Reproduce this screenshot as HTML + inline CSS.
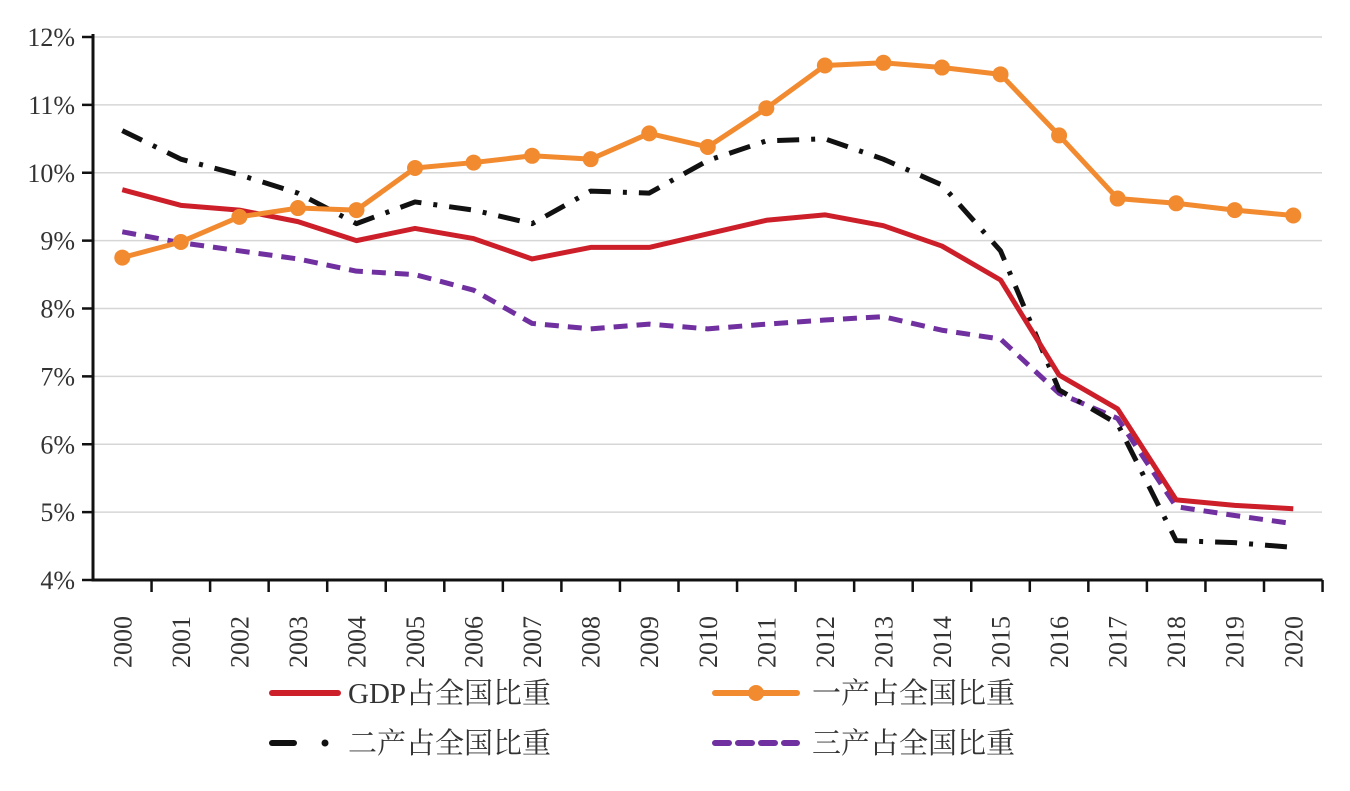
<!DOCTYPE html>
<html><head><meta charset="utf-8"><style>
body{margin:0;background:#fff;width:1350px;height:786px;overflow:hidden}
svg text{font-family:"Liberation Serif","Noto Serif CJK SC",serif;fill:#333}
</style></head><body>
<svg id="chart" width="1350" height="786"></svg>
<script>
const years=["2000","2001","2002","2003","2004","2005","2006","2007","2008","2009","2010","2011","2012","2013","2014","2015","2016","2017","2018","2019","2020"];
const gdpShare=[9.75,9.52,9.45,9.28,9.0,9.18,9.03,8.73,8.9,8.9,9.1,9.3,9.38,9.22,8.92,8.42,7.02,6.52,5.18,5.1,5.05];
const primaryShare=[8.75,8.98,9.35,9.48,9.45,10.07,10.15,10.25,10.2,10.58,10.38,10.95,11.58,11.62,11.55,11.45,10.55,9.62,9.55,9.45,9.37];
const secondaryShare=[10.62,10.2,9.97,9.7,9.25,9.57,9.45,9.25,9.73,9.7,10.18,10.47,10.5,10.2,9.82,8.85,6.8,6.3,4.58,4.55,4.48];
const tertiaryShare=[9.13,8.97,8.85,8.73,8.55,8.5,8.27,7.78,7.7,7.77,7.7,7.77,7.83,7.88,7.68,7.55,6.75,6.38,5.08,4.95,4.83];
const yTicks=[4,5,6,7,8,9,10,11,12];
const NS="http://www.w3.org/2000/svg",svg=document.getElementById('chart');
const x0=93,step=58.55,yTop=37,yBot=580;
const X=i=>x0+step*(i+0.5);
const Y=v=>yBot-(v-4)/8*(yBot-yTop);
function mk(t,a,p){const e=document.createElementNS(NS,t);for(const k in a)e.setAttribute(k,a[k]);(p||svg).appendChild(e);return e;}
yTicks.forEach(v=>{
 if(v>4){const g=mk('line',{x1:x0,x2:1322,y1:Y(v),y2:Y(v),stroke:'#d6d6d6','stroke-width':1.5});
 
 }
 const tk=mk('line',{x1:x0-11,x2:x0,y1:Y(v),y2:Y(v),stroke:'#111','stroke-width':2.5});
 
 
 const t=mk('text',{x:x0-18,y:Y(v)+9,'text-anchor':'end','font-size':26});
 t.textContent=v+'%';
 
 
});
const ax=mk('path',{d:`M${x0} ${yTop-3}V${yBot}H${x0+step*years.length}`,stroke:'#111','stroke-width':3,fill:'none'});


years.forEach((y,i)=>{
 const tk=mk('line',{x1:x0+step*(i+1),x2:x0+step*(i+1),y1:yBot,y2:yBot+12,stroke:'#111','stroke-width':2.5});
 
 
 const t=mk('text',{transform:`translate(${X(i)+9},${yBot+88}) rotate(-90)`,'font-size':26});
 t.textContent=y;
 
 
});
function series(data,color,dash,name,w){
 const p=mk('path',{d:data.map((v,i)=>(i?'L':'M')+X(i)+' '+Y(v)).join(''),stroke:color,'stroke-width':w,fill:'none','stroke-dasharray':dash||'','stroke-linejoin':'round'});
 
 
}
series(tertiaryShare,'#7030a0','14 9','tertiary-line',5);
series(secondaryShare,'#111','22 12 4 12','secondary-line',5);
series(gdpShare,'#cc1f2a','', 'gdp-line',5);
series(primaryShare,'#f28a30','', 'primary-line',5);
primaryShare.forEach((v,i)=>{
 const c=mk('circle',{cx:X(i),cy:Y(v),r:8,fill:'#f28a30'});
 
 
});
function legend(x,y,color,dash,label,name,marker,len,tx){
 const g=mk('g',{});
 
 
 mk('line',{x1:x,x2:x+len,y1:y,y2:y,stroke:color,'stroke-width':6,'stroke-dasharray':dash||'','stroke-linecap':'round'},g);
 if(marker)mk('circle',{cx:x+len/2,cy:y,r:8,fill:color},g);
 const t=mk('text',{x:tx,y:y+10,'font-size':29},g);t.textContent=label;
 return g;
}
legend(272,693,'#cc1f2a','','GDP占全国比重','legend-gdp',false,66,348);
legend(715,693,'#f28a30','','一产占全国比重','legend-primary',true,82,812);
const sg=legend(272,743,'#111','','二产占全国比重','legend-secondary',false,22,348);
mk('circle',{cx:325,cy:743,r:3.5,fill:'#111'},sg);
legend(715,743,'#7030a0','14 9','三产占全国比重','legend-tertiary',false,82,812);
</script>
</body></html>
